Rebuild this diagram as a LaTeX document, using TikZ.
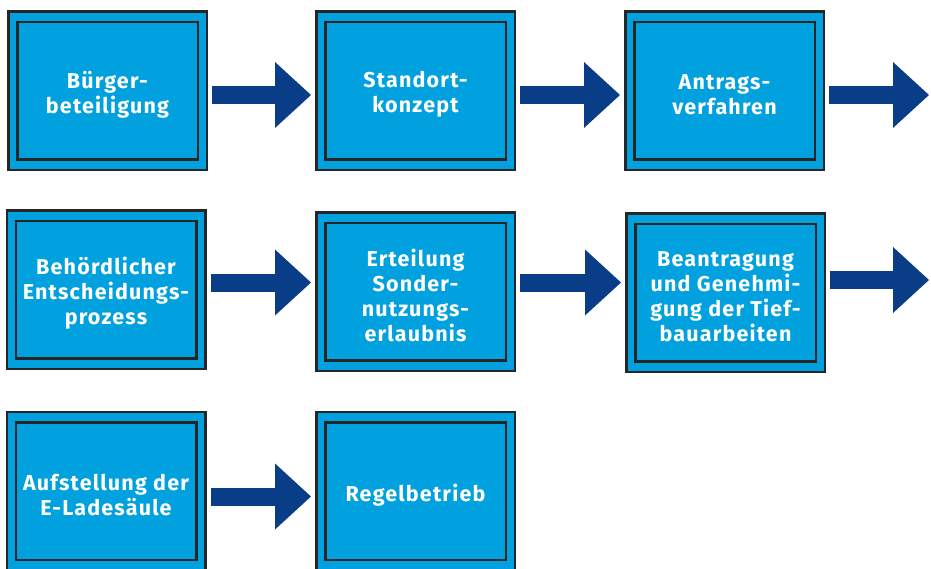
\documentclass[tikz,border=0pt]{standalone}
\usepackage{fontspec}
\setmainfont[LetterSpace=5.5]{Fira Sans}
\usetikzlibrary{arrows.meta,calc}
\definecolor{boxfill}{HTML}{00A1DE}
\definecolor{boxline}{HTML}{262626}
\definecolor{arrowblue}{HTML}{0A3D87}
\tikzset{
  outerbox/.style={draw=boxline, line width=2.5pt, fill=boxfill, minimum width=198.5pt, minimum height=158.5pt, inner sep=0pt},
  innerbox/.style={draw=boxline, line width=2.5pt, minimum width=180.5pt, minimum height=137.5pt, inner sep=0pt},
  boxtext/.style={text=white, font=\bfseries\fontsize{21.5}{25}\selectfont, align=center, inner sep=0pt},
  bigarrow/.style={draw=arrowblue, line width=18pt, -{Triangle[length=36pt,width=66pt,line width=0pt,fill=arrowblue]}},
}
\newcommand{\stepnode}[4]{%
  \node[outerbox] (#1) at (#2) {};
  \node[innerbox] (#1i) at (#1.center) {};
  \node[boxtext] (#1t) at ($(#1.center)+(0,4)$) {#3#4};
}
\begin{document}
\begin{tikzpicture}[x=1pt,y=-1pt]
\useasboundingbox (0,0) rectangle (931,568);
\stepnode{b1}{107.5,90.5}{Bürger-\\beteiligung}{}
\stepnode{b2}{415.5,90.5}{Standort-\\konzept}{}
\stepnode{b3}{724.5,90.5}{Antrags-\\verfahren}{}
\stepnode{b4}{106,289.5}{Behördlicher\\Entscheidungs-\\prozess}{}
\stepnode{b5}{415.5,291.5}{Erteilung\\Sonder-\\nutzungs-\\erlaubnis}{}
\stepnode{b6}{725.5,292.5}{Beantragung\\und Genehmi-\\gung der Tief-\\bauarbeiten}{}
\stepnode{b7}{106,491}{Aufstellung der\\E-Ladesäule}{}
\stepnode{b8}{415.5,491}{Regelbetrieb}{}
\coordinate (e1) at (929,95);
\coordinate (e2) at (929,280);
\draw[bigarrow] ($(b1.east)+(4,4.5)$) -- ($(b2.west|-b1.east)+(-4,4.5)$);
\draw[bigarrow] ($(b2.east)+(4,4.5)$) -- ($(b3.west|-b2.east)+(-4,4.5)$);
\draw[bigarrow] ($(b3.east|-e1)+(4,0)$) -- (e1);
\draw[bigarrow] ($(b4.east)+(4,-7)$) -- ($(b5.west|-b4.east)+(-4,-7)$);
\draw[bigarrow] ($(b5.east)+(4,-9)$) -- ($(b6.west|-b5.east)+(-4,-9)$);
\draw[bigarrow] ($(b6.east|-e2)+(4,0)$) -- (e2);
\draw[bigarrow] ($(b7.east)+(4,5.5)$) -- ($(b8.west|-b7.east)+(-4,5.5)$);
\end{tikzpicture}
\end{document}
